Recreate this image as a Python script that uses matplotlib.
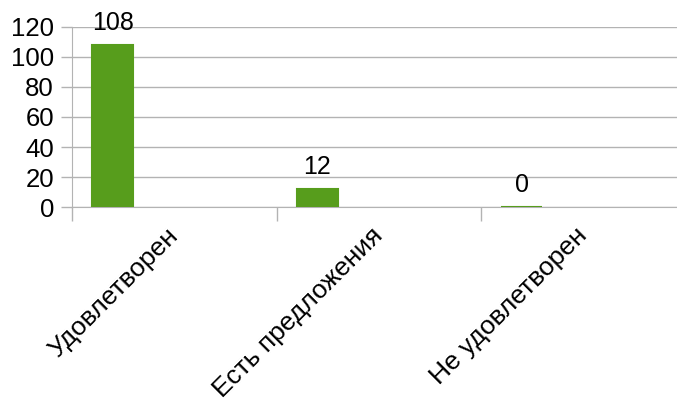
import numpy as np
import matplotlib.pyplot as plt
import matplotlib.transforms as mtransforms

plt.rcParams['font.family'] = ['Liberation Sans', 'DejaVu Sans']

categories = ['Удовлетворен', 'Есть предложения', 'Не удовлетворен']
values = [108, 12, 0]
yticks = [0, 20, 40, 60, 80, 100, 120]

green = '#579d1c'
grid = '#b3b3b3'

fig = plt.figure(figsize=(6.77, 4.01), dpi=100)
ax = fig.add_axes([72/677, 1 - 207/401, 613.5/677, 180/401])

x = np.arange(len(categories))
bars = ax.bar(x - 0.3, values, width=0.2, color=green, edgecolor=green,
              linewidth=1.5, zorder=3)
ax.bar_label(bars, labels=[str(v) for v in values], padding=7.5, fontsize=18)

ax.set_xlim(-0.5, len(categories) - 0.5)
ax.set_ylim(0, 120)
ax.set_yticks(yticks)
ax.yaxis.grid(True, color=grid, linewidth=1)
ax.set_axisbelow(True)

# category labels at slot centres, dividers as minor ticks
ax.set_xticks(x)
ax.set_xticklabels(categories, rotation=45, ha='right', va='top', fontsize=19)
ax.set_xticks(np.arange(len(categories) + 1) - 0.5, minor=True)
ax.tick_params(axis='x', which='major', length=0, pad=12)
ax.tick_params(axis='x', which='minor', length=10, color=grid, width=1)
ax.tick_params(axis='y', length=8, color=grid, width=1, labelsize=18.5, pad=5)

shift = mtransforms.ScaledTranslation(9/100, 0, fig.dpi_scale_trans)
for lab in ax.get_xticklabels():
    lab.set_transform(lab.get_transform() + shift)

for s in ['top', 'right']:
    ax.spines[s].set_visible(False)
ax.spines['left'].set_color(grid)
ax.spines['bottom'].set_color(grid)

fig.savefig('out.png', dpi=100)
